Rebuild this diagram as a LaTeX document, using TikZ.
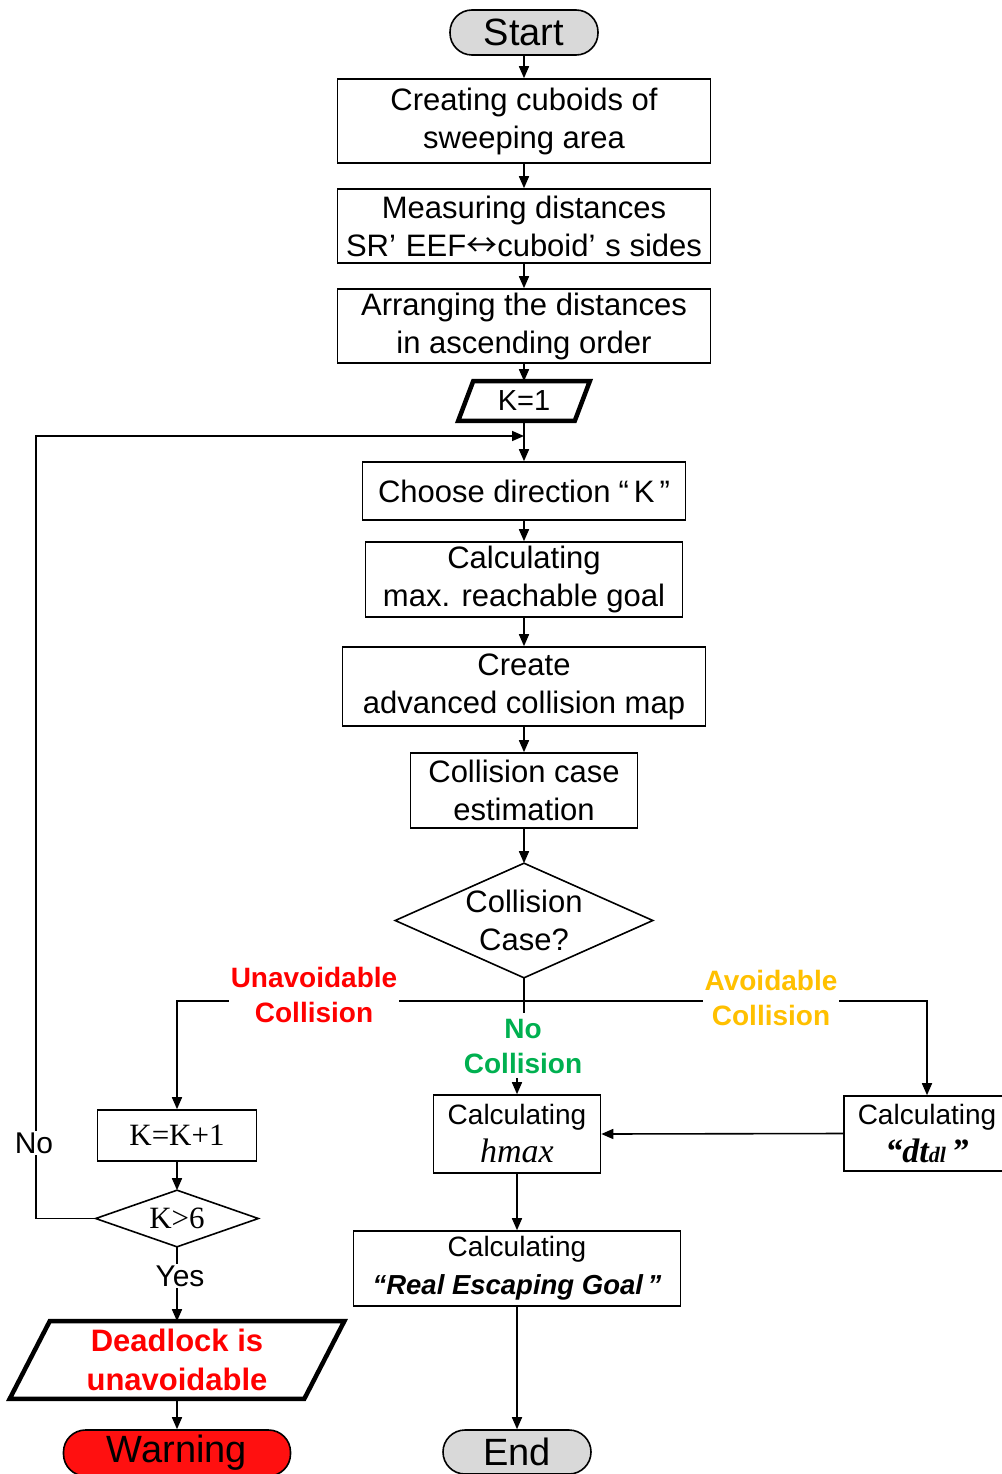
\documentclass[tikz,border=0pt]{standalone}
\usepackage{fontspec}
\setmainfont{Liberation Sans}
\newfontfamily\tnr{Liberation Serif}
\newfontfamily\cjk{Noto Sans CJK SC}
\usetikzlibrary{arrows.meta}
\definecolor{termgray}{HTML}{D9D9D9}
\definecolor{warnred}{HTML}{FF1010}
\definecolor{lblred}{HTML}{FF0000}
\definecolor{lblgreen}{HTML}{00B050}
\definecolor{lblorange}{HTML}{FFC000}

\begin{document}
\begin{tikzpicture}[x=1pt,y=-1pt,line width=1.6pt,
  arr/.style={-{Triangle[length=12pt,width=10pt]}},
  box/.style={draw,line width=1.6pt,align=center,inner sep=0pt,
    font=\fontsize{31}{38}\selectfont},
  term/.style={draw,line width=1.6pt,rounded corners=22pt,inner sep=0pt,
    font=\fontsize{38}{40}\selectfont},
  plain/.style={inner sep=0pt,align=center},
  thickline/.style={line width=4.5pt,line join=miter},
  lbl/.style={fill=white,inner sep=2pt,align=center,
    font=\bfseries\fontsize{28}{35}\selectfont},
  small/.style={fill=white,inner sep=2pt,font=\fontsize{30}{32}\selectfont}
]
\useasboundingbox (0,0) rectangle (1001,1474);

% main column
\node[term,fill=termgray,minimum width=148,minimum height=45] (start) at (524,32.5) {Start};
\node[box,minimum width=373,minimum height=84] (box1) at (524,121)
  {Creating cuboids of\\sweeping area};
\node[box,minimum width=373,minimum height=74] (box2) at (524,226)
  {Measuring distances\\SR’\hspace{10pt}EEF{\cjk ↔}cuboid’\hspace{10pt}s sides};
\node[box,minimum width=373,minimum height=74] (box3) at (524,326)
  {Arranging the distances\\in ascending order};
\node[plain,minimum width=115,minimum height=38,font=\fontsize{29}{30}\selectfont] (k1) at (524,401) {K=1};
\draw[thickline] ([xshift=7.5pt]k1.north west) -- ([xshift=7.5pt]k1.north east)
  -- ([xshift=-7.5pt]k1.south east) -- ([xshift=-7.5pt]k1.south west) -- cycle;
\coordinate (j) at (524,436);
\node[box,minimum width=323,minimum height=58] (choose) at (524,491)
  {Choose direction\hspace{8pt}“\hspace{5pt}K\hspace{5pt}”};
\node[box,minimum width=317,minimum height=75] (calc1) at (524,579.5)
  {Calculating\\max. reachable goal};
\node[box,minimum width=363,minimum height=79] (create) at (524,686.5)
  {Create\\advanced collision map};
\node[box,minimum width=227,minimum height=75] (est) at (524,790.5)
  {Collision case\\estimation};
\node[plain,minimum width=256,minimum height=113,font=\fontsize{31}{38}\selectfont] (dec) at (524,920.5)
  {Collision\\Case?};
\draw (dec.north) -- (dec.east) -- (dec.south) -- (dec.west) -- cycle;
\coordinate (jn) at (524,1001);

% right branches
\node[box,minimum width=167,minimum height=78] (hmax) at (517,1134)
  {\fontsize{28}{40}\selectfont Calculating\\{\tnr\itshape\fontsize{34}{40}\selectfont hmax}};
\node[box,minimum width=166,minimum height=75] (dt) at (927,1133.5)
  {\fontsize{28}{38}\selectfont Calculating\\{\tnr\bfseries\itshape\fontsize{34}{38}\selectfont “dt{\fontsize{22}{22}\selectfont dl}\,”}};
\node[box,minimum width=327,minimum height=75] (reg) at (517,1268.5)
  {\fontsize{28}{35}\selectfont Calculating\\{\bfseries\itshape\fontsize{27.5}{35}\selectfont “Real Escaping Goal\,”}};
\node[term,fill=termgray,minimum width=148,minimum height=44] (endn) at (517,1452) {End};

% left branch
\node[box,minimum width=159,minimum height=51,font=\tnr\fontsize{31}{32}\selectfont] (kk) at (177,1135.5) {K=K+1};
\node[plain,minimum width=161,minimum height=55,font=\tnr\fontsize{31}{32}\selectfont] (k6) at (177,1218.5) {K>6};
\draw (k6.north) -- (k6.east) -- (k6.south) -- (k6.west) -- cycle;
\node[plain,minimum width=293,minimum height=76,text=lblred,
  font=\bfseries\fontsize{31}{39}\selectfont] (dead) at (177,1360) {Deadlock is\\unavoidable};
\draw[thickline] ([xshift=20pt]dead.north west) -- ([xshift=20pt]dead.north east)
  -- ([xshift=-20pt]dead.south east) -- ([xshift=-20pt]dead.south west) -- cycle;
\node[term,fill=warnred,minimum width=227,minimum height=46] (warn) at (177,1453) {Warning};

% connectors
\draw[arr] (start) -- (box1);
\draw[arr] (box1) -- (box2);
\draw[arr] (box2) -- (box3);
\draw[arr] (box3.south) -- (k1.north);
\draw[arr] (k1.south) -- (choose.north);
\draw[arr] (choose) -- (calc1);
\draw[arr] (calc1) -- (create);
\draw[arr] (create) -- (est);
\draw[arr] (est.south) -- (dec.north);
\draw (dec.south) -- (524,1013);
\draw[arr] (jn) -| (kk.north);
\draw[arr] (jn) -| (dt.north);
\draw[arr] (517,1078) -- (hmax.north);
\draw[arr] (dt.west) -- (hmax.east);
\draw[arr] (hmax) -- (reg);
\draw[arr] (reg) -- (endn);
\draw[arr] (kk.south) -- (k6.north);
\draw[arr] (k6.south) -- (dead.north);
\draw[arr] (dead.south) -- (warn.north);
\draw[arr] (k6.west) -- (36,1218.5) -- (36,436) -- (j);

% branch labels
\node[lbl,text=lblred] at (314,995) {Unavoidable\\Collision};
\node[lbl,text=lblorange] at (771,997.5) {Avoidable\\Collision};
\node[lbl,text=lblgreen,fill=none] at (523,1046) {No\\Collision};
\node[small] at (34,1143) {No};
\node[small] at (180,1276) {Yes};
\end{tikzpicture}
\end{document}
